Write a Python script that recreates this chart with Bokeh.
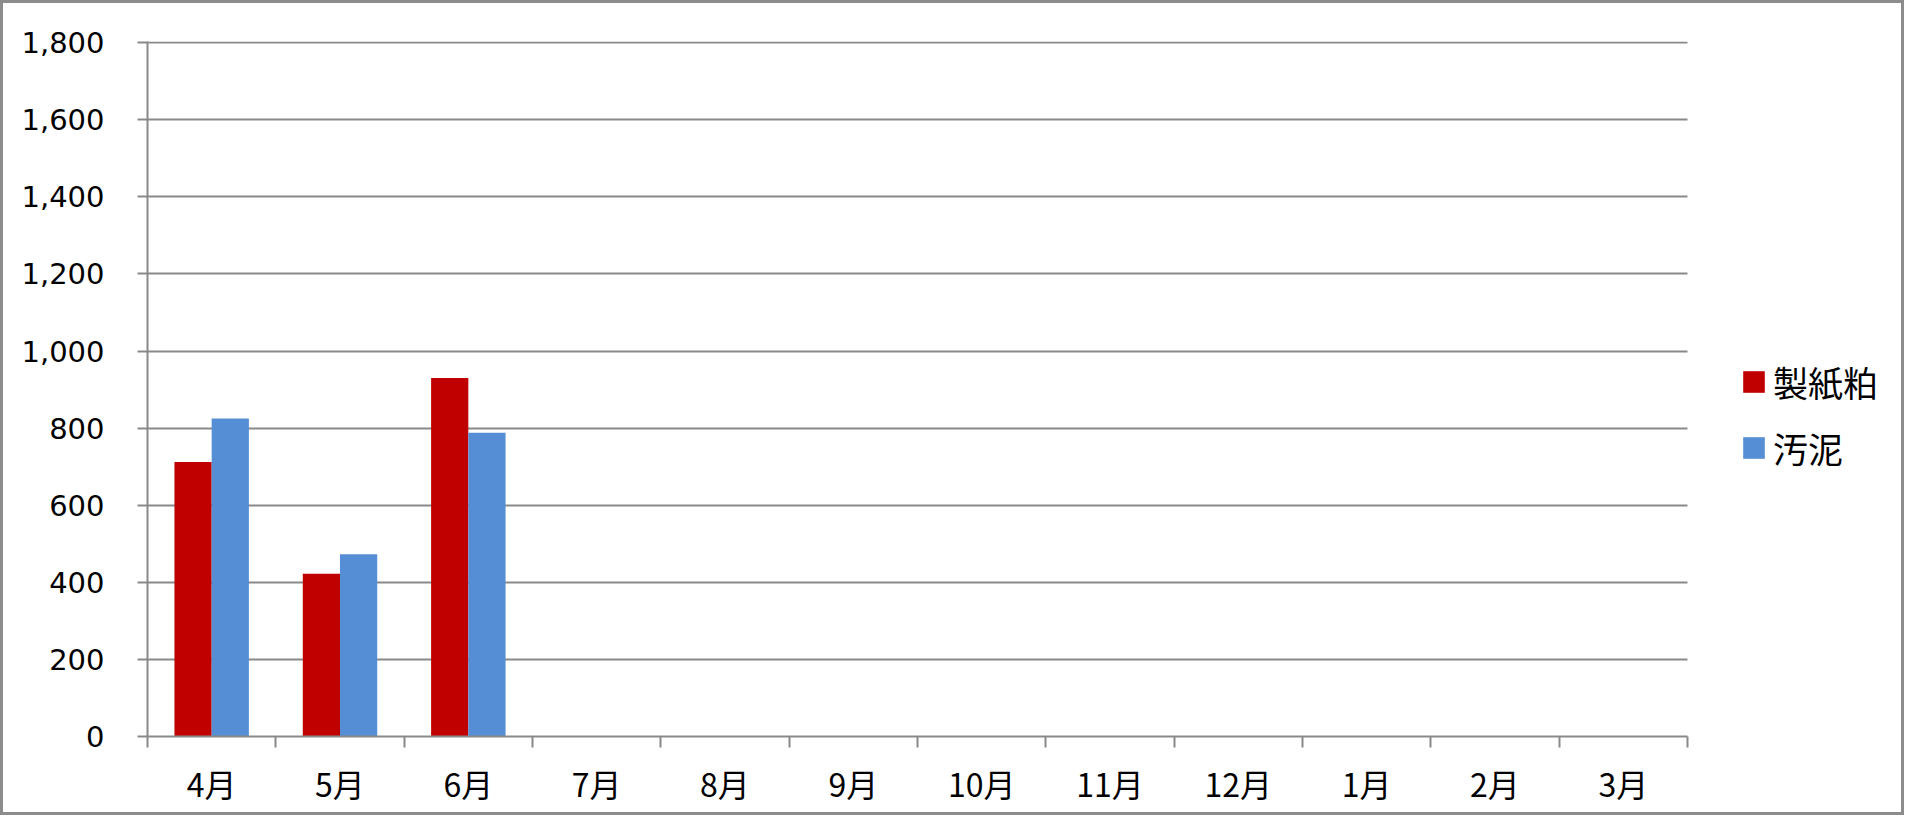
import numpy as np
from bokeh.plotting import figure
from bokeh.layouts import column
from bokeh.models import (Range1d, FixedTicker, NumeralTickFormatter, Legend,
                          LegendItem, ColumnDataSource)
from bokeh.transform import dodge
from bokeh.embed import file_html
from bokeh.resources import INLINE

# ---- data ----
months = ["4月", "5月", "6月", "7月", "8月", "9月", "10月", "11月", "12月", "1月", "2月", "3月"]
series_names = ["製紙粕", "汚泥"]
paper_sludge = [712, 422, 930]     # 製紙粕
sludge = [825, 473, 788]           # 汚泥
y_ticks = [0, 200, 400, 600, 800, 1000, 1200, 1400, 1600, 1800]

RED = "#C00000"
BLUE = "#558ED5"
GRID = "#898989"

# ---- layout constants (pixels) ----
BD = 3                      # outer border thickness
W, H = 1898, 809            # figure size (inside border)
LEFT, TOP, BOTTOM, RIGHT = 144, 38, 76, 2
AXIS_PX = 1540              # pixel width of the 12 month categories
frame_px = W - LEFT - RIGHT
n = len(months)
x_end = n * frame_px / AXIS_PX   # extra room on the right for the legend

p = figure(width=W, height=H, output_backend="svg", toolbar_location=None,
           x_range=Range1d(0, x_end), y_range=Range1d(0, 1803),
           min_border_left=LEFT, min_border_right=RIGHT, min_border_top=TOP,
           min_border_bottom=BOTTOM)
p.outline_line_color = None
p.background_fill_color = "white"
p.border_fill_color = "white"

idx = np.arange(len(paper_sludge)) + 0.5
bw = 0.29
src = ColumnDataSource(dict(x=idx, a=paper_sludge, b=sludge))
r1 = p.vbar(x=dodge("x", -bw / 2), top="a", width=bw, source=src, fill_color=RED, line_color=None)
r2 = p.vbar(x=dodge("x", bw / 2), top="b", width=bw, source=src, fill_color=BLUE, line_color=None)

# y axis
yax = p.yaxis[0]
yax.ticker = FixedTicker(ticks=y_ticks, minor_ticks=[])
yax.formatter = NumeralTickFormatter(format="0,0")
yax.axis_line_color = GRID
yax.axis_line_width = 2
yax.major_tick_line_color = GRID
yax.major_tick_line_width = 2
yax.major_tick_out = 10
yax.major_tick_in = 0
yax.minor_tick_line_color = None
yax.major_label_text_font = "DejaVu Sans"
yax.major_label_text_font_size = "29px"
yax.major_label_text_color = "black"
yax.major_label_standoff = 33

# x axis
xax = p.xaxis[0]
xax.bounds = (0, n)
xax.ticker = FixedTicker(ticks=[i + 0.5 for i in range(n)],
                         minor_ticks=list(range(n + 1)))
xax.major_label_overrides = {i + 0.5: m for i, m in enumerate(months)}
xax.axis_line_color = GRID
xax.axis_line_width = 2
xax.major_tick_line_color = None
xax.major_tick_out = 11
xax.minor_tick_line_color = GRID
xax.minor_tick_line_width = 2
xax.minor_tick_out = 11
xax.minor_tick_in = 0
xax.major_label_text_font = "Noto Sans CJK JP"
xax.major_label_text_font_size = "32px"
xax.major_label_text_color = "black"
xax.major_label_standoff = 12

# grid
p.xgrid.grid_line_color = None
p.ygrid.ticker = FixedTicker(ticks=y_ticks, minor_ticks=[])
p.ygrid.cross_bounds = (0, n)
p.ygrid.grid_line_color = GRID
p.ygrid.grid_line_width = 2

# legend (inside the extended frame, right of the month axis)
legend = Legend(items=[LegendItem(label=series_names[0], renderers=[r1]),
                       LegendItem(label=series_names[1], renderers=[r2])],
                location=(1593, 263), orientation="vertical",
                padding=0, margin=0, spacing=15,
                glyph_width=27, glyph_height=27, label_height=40,
                label_standoff=6,
                label_text_font="Noto Sans CJK JP", label_text_font_size="35px",
                label_text_color="black",
                border_line_color=None, background_fill_alpha=0)
p.add_layout(legend, "center")

page = column(p, styles={"border": f"{BD}px solid #8c8c8c"})

open("out.html", "w").write(file_html(page, INLINE))
